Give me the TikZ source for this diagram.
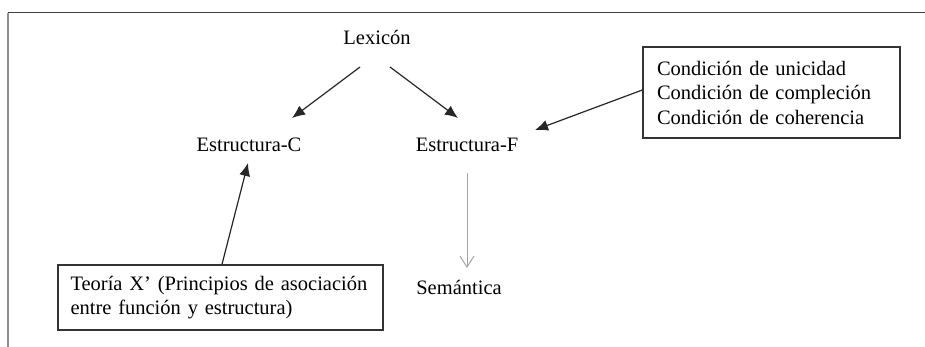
\documentclass[tikz,border=0pt]{standalone}
\usepackage{fontspec}
\setmainfont{Liberation Serif}
\usetikzlibrary{arrows.meta}
\begin{document}
\begin{tikzpicture}[x=1pt,y=-1pt,
  lbl/.style={font=\fontsize{20.5}{24.5}\selectfont, inner sep=0pt, text=black},
  boxnode/.style={draw=black!80, line width=1.4pt, font=\fontsize{20.5}{24.5}\selectfont, text=black, align=left},
  arr/.style={draw=black!85, line width=1.2pt, -{Latex[length=13pt,width=11pt]}},
  garr/.style={draw=black!35, line width=1pt, -{Straight Barb[length=11pt,width=14pt]}}]
\useasboundingbox (0,0) rectangle (925,347);
\fill[white] (0,0) rectangle (925,347);
% frame
\draw[black!75, line width=1pt] (8,13) -- (925,13);
\draw[black!45, line width=1.2pt] (8,13) -- (8,347);
% nodes
\node[lbl] (lex) at (377,37) {Lexicón};
\node[lbl] (estc) at (249,145) {Estructura-C};
\node[lbl] (estf) at (467,145) {Estructura-F};
\node[lbl] (sem) at (459,287) {Semántica};
\node[boxnode, text width=229pt, inner xsep=14pt, minimum height=91pt] (cond) at (771.5,92.5)
  {Condición de unicidad\\Condición de compleción\\Condición de coherencia};
\node[boxnode, text width=300pt, inner xsep=12.5pt, minimum height=65pt] (teo) at (220.5,297.5)
  {Teoría X’ (Principios de asociación\\entre función y estructura)};
% connectors
\draw[arr] ([shift={(-17,30)}]lex.center) -- ([shift={(43,-27)}]estc.center);
\draw[arr] ([shift={(13,30)}]lex.center) -- ([shift={(-9,-27)}]estf.center);
\draw[arr] ([yshift=2.5pt]cond.west) -- ([shift={(68,-15)}]estf.center);
\draw[arr] ([xshift=1.5pt]teo.north) -- ([shift={(-1,18)}]estc.center);
\draw[garr] ([shift={(0,28)}]estf.center) -- ([shift={(8,-19)}]sem.center);
\end{tikzpicture}
\end{document}
